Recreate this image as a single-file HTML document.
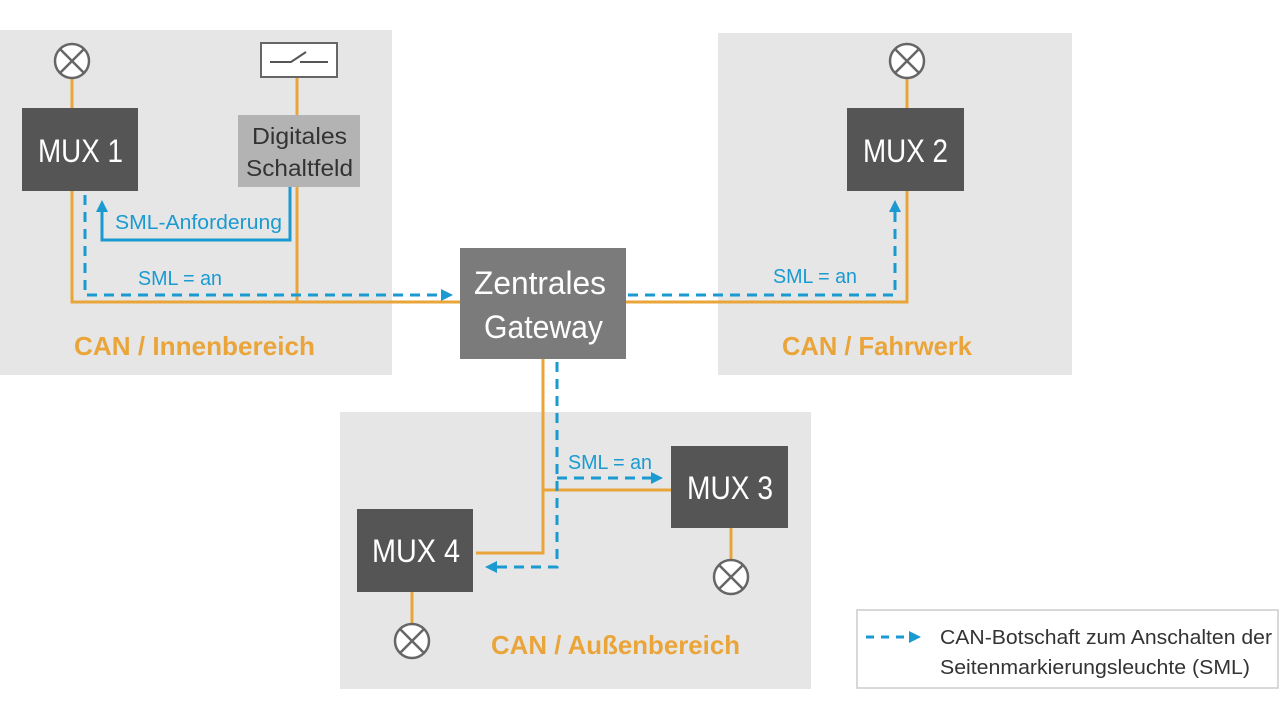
<!DOCTYPE html>
<html><head><meta charset="utf-8"><style>
html,body{margin:0;padding:0;background:#fff;width:1280px;height:719px;overflow:hidden}
svg text{font-family:"Liberation Sans Narrow","Liberation Sans",sans-serif}
</style></head><body>
<svg width="1280" height="719" viewBox="0 0 1280 719" xmlns="http://www.w3.org/2000/svg">
<defs>
<marker id="b" markerWidth="12" markerHeight="12" refX="9" refY="6" orient="auto" markerUnits="userSpaceOnUse"><path d="M0,0 L12,6 L0,12 Z" fill="#1a9ad0"/></marker>
</defs>
<rect x="0" y="30" width="392" height="345" fill="#e6e6e6"/>
<rect x="718" y="33" width="354" height="342" fill="#e6e6e6"/>
<rect x="340" y="412" width="471" height="277" fill="#e6e6e6"/>
<g stroke="#eaa53a" stroke-width="3" fill="none">
<path d="M72,78 V108 M72,191 V302 H907 V191 M907,78 V108"/>
<path d="M297,77 V302"/>
<path d="M543,359 V553 H476 M543,490 H671"/>
<path d="M731,528 V560 M412,592 V624"/>
</g>
<g stroke="#1a9ad0" stroke-width="3" fill="none">
<path d="M290,187 V240 H102 V203" marker-end="url(#b)"/>
<path d="M85,195 V295 H450" stroke-dasharray="10,7" marker-end="url(#b)"/>
<path d="M628,295 H895 V203" stroke-dasharray="10,7" marker-end="url(#b)"/>
<path d="M557,362 V567 H488" stroke-dasharray="10,7" marker-end="url(#b)"/>
<path d="M557,478 H660" stroke-dasharray="10,7" marker-end="url(#b)"/>
</g>
<rect x="22" y="108" width="116" height="83" fill="#555"/>
<rect x="238" y="115" width="122" height="72" fill="#b3b3b3"/>
<rect x="847" y="108" width="117" height="83" fill="#555"/>
<rect x="460" y="248" width="166" height="111" fill="#7b7b7b"/>
<rect x="671" y="446" width="117" height="82" fill="#555"/>
<rect x="357" y="509" width="116" height="83" fill="#555"/>
<rect x="261" y="43" width="76" height="34" fill="#fff" stroke="#666" stroke-width="2"/>
<path d="M270,62 H291 L306,52 M300,62 H328" stroke="#555" stroke-width="2" fill="none"/>
<g fill="#fff" stroke="#666" stroke-width="2.5">
<circle cx="72" cy="61" r="17"/><circle cx="907" cy="61" r="17"/><circle cx="731" cy="577" r="17"/><circle cx="412" cy="641" r="17"/>
</g>
<g stroke="#666" stroke-width="2.5">
<path d="M60,49 L84,73 M84,49 L60,73"/><path d="M895,49 L919,73 M919,49 L895,73"/>
<path d="M719,565 L743,589 M743,565 L719,589"/><path d="M400,629 L424,653 M424,629 L400,653"/>
</g>
<g fill="#fff" font-size="32" lengthAdjust="spacingAndGlyphs">
<text x="38" y="162" textLength="85" lengthAdjust="spacingAndGlyphs">MUX 1</text>
<text x="863" y="162" textLength="85" lengthAdjust="spacingAndGlyphs">MUX 2</text>
<text x="687" y="499" textLength="86" lengthAdjust="spacingAndGlyphs">MUX 3</text>
<text x="372" y="562" textLength="88" lengthAdjust="spacingAndGlyphs">MUX 4</text>
<text x="474" y="294" textLength="132" lengthAdjust="spacingAndGlyphs">Zentrales</text>
<text x="484" y="338" textLength="119" lengthAdjust="spacingAndGlyphs">Gateway</text>
</g>
<g fill="#333" font-size="23">
<text x="252" y="144" textLength="95" lengthAdjust="spacingAndGlyphs">Digitales</text>
<text x="246" y="176" textLength="107" lengthAdjust="spacingAndGlyphs">Schaltfeld</text>
</g>
<g fill="#1a9ad0" font-size="20">
<text x="115" y="229" textLength="167" lengthAdjust="spacingAndGlyphs">SML-Anforderung</text>
<text x="138" y="285" textLength="84" lengthAdjust="spacingAndGlyphs">SML = an</text>
<text x="773" y="283" textLength="84" lengthAdjust="spacingAndGlyphs">SML = an</text>
<text x="568" y="469" textLength="84" lengthAdjust="spacingAndGlyphs">SML = an</text>
</g>
<g fill="#eaa53a" font-size="26" font-weight="bold">
<text x="74" y="355" textLength="241" lengthAdjust="spacingAndGlyphs">CAN / Innenbereich</text>
<text x="782" y="355" textLength="190" lengthAdjust="spacingAndGlyphs">CAN / Fahrwerk</text>
<text x="491" y="654" textLength="249" lengthAdjust="spacingAndGlyphs">CAN / Außenbereich</text>
</g>
<rect x="857" y="610" width="421" height="78" fill="#fff" stroke="#ccc" stroke-width="1.5"/>
<path d="M866,637 H918" stroke="#1a9ad0" stroke-width="3" stroke-dasharray="8,7" fill="none" marker-end="url(#b)"/>
<g fill="#333" font-size="20">
<text x="940" y="644" textLength="332" lengthAdjust="spacingAndGlyphs">CAN-Botschaft zum Anschalten der</text>
<text x="940" y="674" textLength="310" lengthAdjust="spacingAndGlyphs">Seitenmarkierungsleuchte (SML)</text>
</g>
</svg>
</body></html>
